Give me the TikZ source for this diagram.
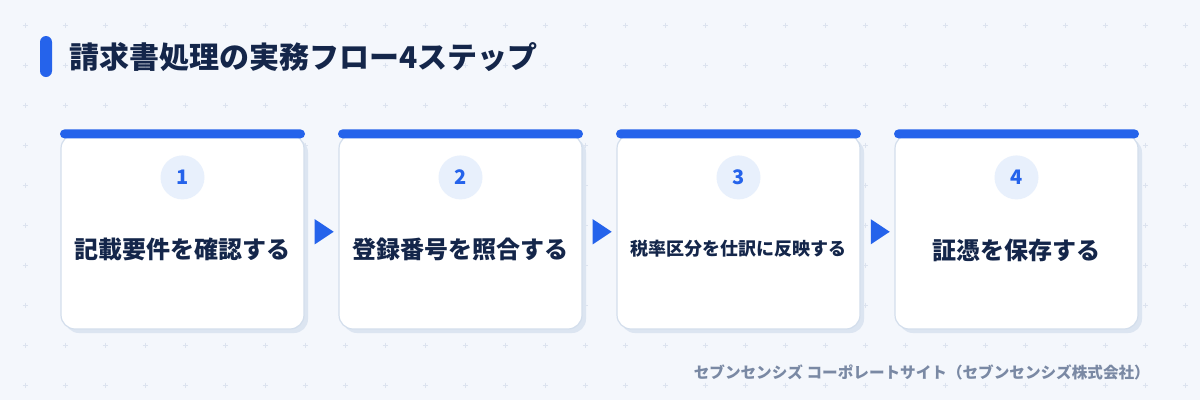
\documentclass[tikz,border=0pt]{standalone}
\usepackage{fontspec}
\setmainfont{Noto Sans CJK JP}
\usetikzlibrary{shapes.geometric,positioning,shadows}

\definecolor{pagebg}{HTML}{F4F7FC}
\definecolor{gridplus}{HTML}{DCE3EF}
\definecolor{flowblue}{HTML}{2563EB}
\definecolor{inkdark}{HTML}{14264A}
\definecolor{cardline}{HTML}{D3DEEC}
\definecolor{cardshadow}{HTML}{DCE5F1}
\definecolor{numfill}{HTML}{E8F0FC}
\definecolor{footgray}{HTML}{7A89A4}

\begin{document}
\begin{tikzpicture}[%
    x=1pt, y=-1pt,
    node distance=278pt,
    on grid,
    stepcard/.style={draw=cardline, line width=1.2pt, fill=white,
      rounded corners=14pt, minimum width=243pt, minimum height=194.5pt,
      inner sep=0pt,
      general shadow={fill=cardshadow, shadow xshift=4pt, shadow yshift=-4pt}},
    topbar/.style={fill=flowblue, rounded corners=4.5pt, minimum width=245pt,
      minimum height=9pt, inner sep=0pt},
    stepnum/.style={circle, fill=numfill, minimum size=44pt, inner sep=0pt,
      text=flowblue, font=\fontsize{20}{24}\selectfont\bfseries},
    steplabel/.style={text=inkdark, inner sep=0pt,
      font=\fontsize{24}{28}\selectfont\bfseries},
    flowtri/.style={isosceles triangle, isosceles triangle apex angle=67,
      fill=flowblue, inner sep=0pt, minimum height=19pt},
  ]
  % background with plus grid
  \fill[pagebg] (0,0) rectangle (1200,400);
  \useasboundingbox (0,0) rectangle (1200,400);
  \foreach \i in {0,...,29}
    \foreach \j in {0,...,9}
      \draw[gridplus, line width=0.8pt] (25+40*\i,25+40*\j) +(-2.5,0) -- +(2.5,0)
        +(0,-2.5) -- +(0,2.5);

  % title
  \fill[flowblue, rounded corners=6pt] (40,36) rectangle (52,77);
  \node[anchor=west, text=inkdark, inner sep=0pt,
    font=\fontsize{30}{36}\selectfont\bfseries] (title) at (69,57)
    {請求書処理の実務フロー4ステップ};

  % cards
  \node[stepcard] (card1) at (182.5,231.75) {};
  \node[stepcard] (card2) [right=of card1] {};
  \node[stepcard] (card3) [right=of card2] {};
  \node[stepcard] (card4) [right=of card3] {};

  \foreach \k in {1,...,4}
    \node[topbar] (bar\k) at (card\k.north) {};

  \node[stepnum] (num1) [below=43.5pt of card1.north, anchor=center] {1};
  \node[stepnum] (num2) [below=43.5pt of card2.north, anchor=center] {2};
  \node[stepnum] (num3) [below=43.5pt of card3.north, anchor=center] {3};
  \node[stepnum] (num4) [below=43.5pt of card4.north, anchor=center] {4};

  \node[steplabel] (label1) [below=116pt of card1.north, anchor=center]
    {記載要件を確認する};
  \node[steplabel] (label2) [below=116pt of card2.north, anchor=center]
    {登録番号を照合する};
  \node[steplabel, font=\fontsize{18}{22}\selectfont\bfseries] (label3)
    [below=115pt of card3.north, anchor=center] {税率区分を仕訳に反映する};
  \node[steplabel] (label4) [below=116pt of card4.north, anchor=center]
    {証憑を保存する};

  % arrows between cards
  \path (card1) -- node[flowtri] (arrow1) {} (card2);
  \path (card2) -- node[flowtri] (arrow2) {} (card3);
  \path (card3) -- node[flowtri] (arrow3) {} (card4);

  % footer
  \node[anchor=east, text=footgray, inner sep=0pt,
    font=\fontsize{15.6}{18}\selectfont\bfseries] (source) at (1150,372)
    {セブンセンシズ コーポレートサイト（セブンセンシズ株式会社）};
\end{tikzpicture}
\end{document}
